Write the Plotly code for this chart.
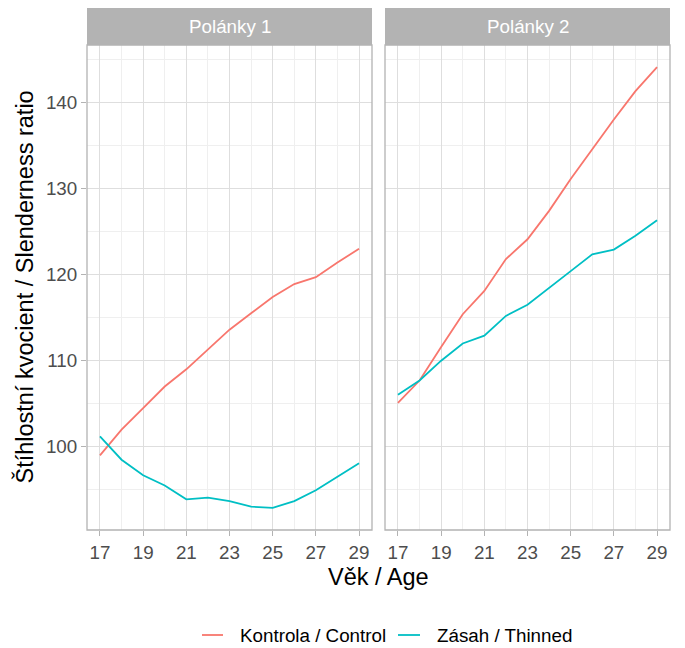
import plotly.graph_objects as go

ages = list(range(17, 30))
panels = ["Polánky 1", "Polánky 2"]
series_names = ["Kontrola / Control", "Zásah / Thinned"]
colors = ["#F8766D", "#00BFC4"]

p1_control = [99.0, 102.0, 104.5, 107.0, 109.0, 111.3, 113.6, 115.5, 117.4, 118.9, 119.7, 121.4, 123.0]
p1_thinned = [101.2, 98.5, 96.7, 95.5, 93.9, 94.1, 93.7, 93.05, 92.9, 93.7, 94.95, 96.5, 98.1]
p2_control = [105.1, 107.7, 111.6, 115.4, 118.1, 121.8, 124.1, 127.4, 131.1, 134.6, 138.0, 141.3, 144.1]
p2_thinned = [106.05, 107.7, 110.0, 112.0, 112.9, 115.2, 116.5, 118.4, 120.4, 122.35, 122.9, 124.5, 126.3]

xticks = [17, 19, 21, 23, 25, 27, 29]
yticks = [100, 110, 120, 130, 140]

data = {panels[0]: [p1_control, p1_thinned], panels[1]: [p2_control, p2_thinned]}

# page has an 8px body margin; figure sized to fill the rest of the window
OFF = 8
W, H = 685 - OFF, 648 - OFF
FONT = "Liberation Sans, Arial, sans-serif"
GRID = "#dedede"
MINOR = "#efefef"
BORDER = "#b3b3b3"
TXT = 18.8
TITLE = 23.5


def px(x):
    return (x - OFF) / W


def py(y):
    return 1 - (y - OFF) / H


fig = go.Figure()
for pi, pname in enumerate(panels):
    xa = "x" if pi == 0 else "x2"
    for si, vals in enumerate(data[pname]):
        fig.add_trace(go.Scatter(
            x=ages, y=vals, mode="lines", name=series_names[si],
            line=dict(color=colors[si], width=1.8),
            xaxis=xa, yaxis="y" if pi == 0 else "y2",
            showlegend=False, hoverinfo="x+y+name"))

allv = p1_control + p1_thinned + p2_control + p2_thinned
lo, hi = min(allv), max(allv)
pad = (hi - lo) * 0.05
yr = [lo - pad, hi + pad]
xr = [17 - 0.6, 29 + 0.6]

doms = [[px(87), px(372)], [px(385), px(670)]]
ydom = [py(530), py(45)]

common_x = dict(range=xr, tickvals=xticks, showgrid=True, gridcolor=GRID, gridwidth=1,
                zeroline=False, showline=False, ticks="outside", ticklen=5, tickcolor=BORDER,
                tickwidth=1, tickfont=dict(family=FONT, size=TXT, color="#4d4d4d"),
                minor=dict(tickvals=ages, showgrid=True, gridcolor=MINOR, gridwidth=1, ticks=""))
common_y = dict(range=yr, tickvals=yticks, showgrid=True, gridcolor=GRID, gridwidth=1,
                zeroline=False, showline=False, domain=ydom,
                minor=dict(tickvals=[95, 105, 115, 125, 135, 145], showgrid=True, gridcolor=MINOR, gridwidth=1, ticks=""))

fig.update_layout(
    xaxis=dict(common_x, domain=doms[0], anchor="y"),
    xaxis2=dict(common_x, domain=doms[1], anchor="y2"),
    yaxis=dict(common_y, anchor="x", ticks="outside", ticklen=5, tickcolor=BORDER, tickwidth=1,
               tickfont=dict(family=FONT, size=TXT, color="#4d4d4d")),
    yaxis2=dict(common_y, anchor="x2", matches="y", showticklabels=False, ticks=""),
)

shapes = []
annotations = []
for pi, pname in enumerate(panels):
    d = doms[pi]
    shapes.append(dict(type="rect", xref="paper", yref="paper", x0=d[0], x1=d[1], y0=ydom[0], y1=ydom[1],
                       line=dict(color=BORDER, width=1.3), fillcolor="rgba(0,0,0,0)", layer="above"))
    shapes.append(dict(type="rect", xref="paper", yref="paper", x0=d[0], x1=d[1], y0=ydom[1], y1=py(7),
                       line=dict(width=0), fillcolor=BORDER, layer="above"))
    annotations.append(dict(text=pname, xref="paper", yref="paper", x=(d[0] + d[1]) / 2, y=(ydom[1] + py(7)) / 2,
                            showarrow=False, xanchor="center", yanchor="middle",
                            font=dict(family=FONT, size=TXT, color="white")))

annotations.append(dict(text="Věk / Age", xref="paper", yref="paper", x=(doms[0][0] + doms[1][1]) / 2, y=py(577),
                        showarrow=False, xanchor="center", yanchor="middle",
                        font=dict(family=FONT, size=TITLE, color="black")))
annotations.append(dict(text="Štíhlostní kvocient / Slenderness ratio", xref="paper", yref="paper", x=px(24),
                        y=(ydom[0] + ydom[1]) / 2, textangle=-90,
                        showarrow=False, xanchor="center", yanchor="middle",
                        font=dict(family=FONT, size=TITLE, color="black")))

# legend (drawn manually to match the key layout)
leg_y = py(635)
leg_items = [(202, 223, 238), (398, 420, 435)]
for si, (lx0, lx1, tx) in enumerate(leg_items):
    shapes.append(dict(type="line", xref="paper", yref="paper", x0=px(lx0), x1=px(lx1), y0=leg_y, y1=leg_y,
                       line=dict(color=colors[si], width=1.8)))
    annotations.append(dict(text=series_names[si], xref="paper", yref="paper", x=px(tx), y=leg_y,
                            showarrow=False, xanchor="left", yanchor="middle",
                            font=dict(family=FONT, size=TXT, color="black")))

fig.update_layout(
    width=W, height=H,
    margin=dict(l=0, r=0, t=0, b=0),
    paper_bgcolor="white", plot_bgcolor="white",
    shapes=shapes, annotations=annotations,
    showlegend=False,
    font=dict(family=FONT),
)

fig.write_html("out.html")
